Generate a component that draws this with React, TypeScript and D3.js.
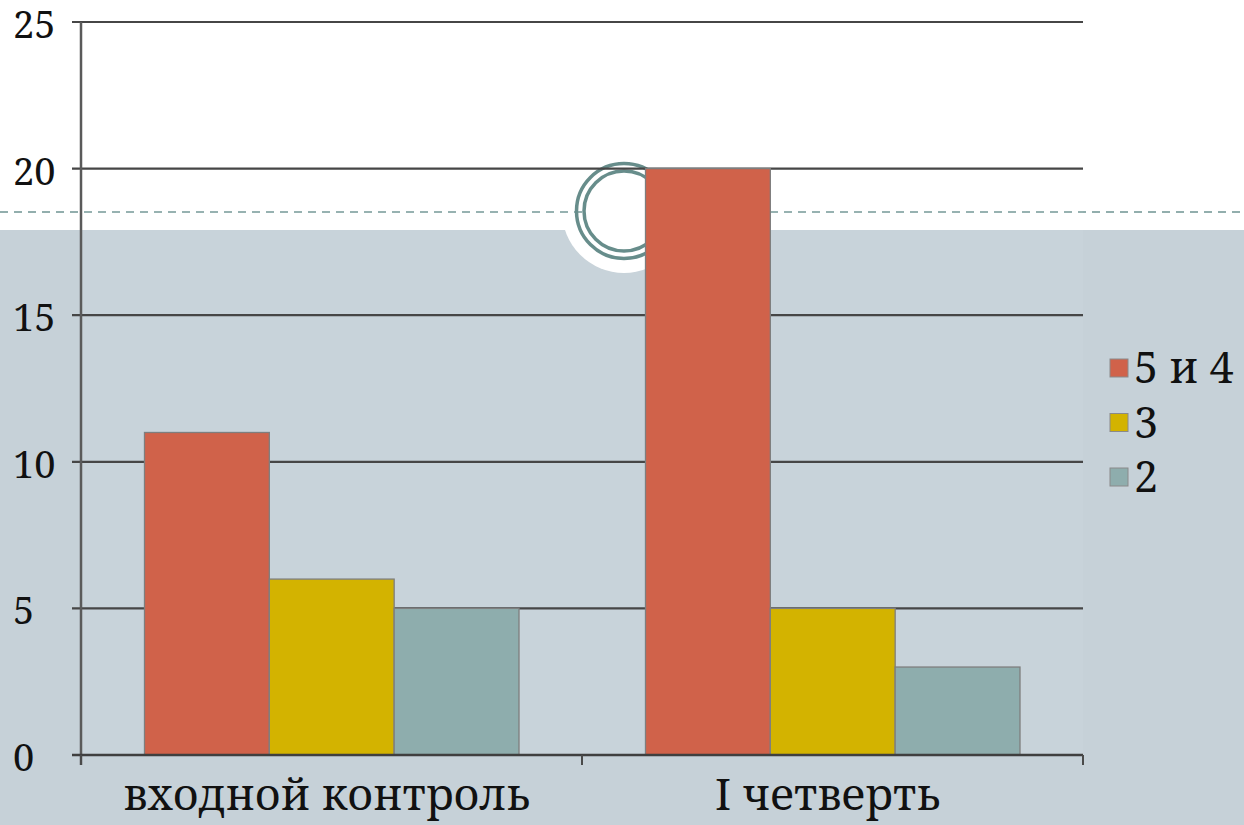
import React from "react";
import * as d3 from "d3";

const categories = ["входной контроль", "I четверть"];
const seriesNames = ["5 и 4", "3", "2"];
const values54 = [11, 20];
const values3 = [6, 5];
const values2 = [5, 3];
const yTicks = [0, 5, 10, 15, 20, 25];
const seriesColors = ["#d0624a", "#d3b300", "#8eadad"];

const W = 1244;
const H = 825;
const FONT = '"Noto Serif", "DejaVu Serif", serif';

export default function App() {
  const seriesValues = [values54, values3, values2];
  const x0 = d3.scaleBand<string>().domain(categories).range([81, 1083]).padding(0);
  const x1 = d3.scaleBand<string>().domain(seriesNames).range([63.5, 438]).padding(0);
  const y = d3.scaleLinear().domain([0, 25]).range([755, 22]);
  const bw = x1.bandwidth();
  const txt = { fontFamily: FONT };

  return (
    <svg
      width={W}
      height={H}
      style={{ position: "absolute", left: 0, top: 0, display: "block" }}
    >
      {/* slide background */}
      <rect x={0} y={0} width={W} height={H} fill="#ffffff" />
      <rect x={0} y={230} width={W} height={H - 230} fill="#c6d1d8" />
      <circle cx={624} cy={211} r={62} fill="#ffffff" />
      <line x1={0} x2={W} y1={212} y2={212} stroke="#6f9493" strokeWidth={1.5} strokeDasharray="8 6" />
      <circle cx={624} cy={211} r={40} fill="#ffffff" stroke="#5f8785" strokeWidth={3.5} />
      <circle cx={624} cy={211} r={47.5} fill="none" stroke="#5f8785" strokeWidth={3.5} />

      {/* plot area tint */}
      <rect x={81} y={y(25)} width={1083 - 81} height={y(0) - y(25)} fill="#ffffff" fillOpacity={0.05} />

      {/* gridlines */}
      {yTicks.map((t) => (
        <line key={"g" + t} x1={72} x2={1083} y1={y(t)} y2={y(t)} stroke="#464646" strokeWidth={2.2} />
      ))}

      {/* bars */}
      {categories.map((c, ci) =>
        seriesNames.map((s, si) => {
          const v = seriesValues[si][ci];
          const bx = (x0(c) as number) + (x1(s) as number);
          return (
            <rect
              key={c + s}
              x={bx}
              y={y(v)}
              width={bw}
              height={y(0) - y(v)}
              fill={seriesColors[si]}
              stroke="#7e7e7e"
              strokeWidth={1.3}
            />
          );
        })
      )}

      {/* axes */}
      <line x1={81} x2={81} y1={y(25)} y2={765} stroke="#5a5a5a" strokeWidth={2.5} />
      <line x1={72} x2={1083} y1={y(0)} y2={y(0)} stroke="#3f3f3f" strokeWidth={2.5} />
      {[...categories.map((c) => x0(c) as number), 1083].map((xv, i) => (
        <line key={"xt" + i} x1={xv} x2={xv} y1={y(0)} y2={765} stroke="#4a4a4a" strokeWidth={2} />
      ))}

      {/* y tick labels */}
      {yTicks.map((t) => (
        <text key={"yl" + t} x={13} y={y(t) + 16} fontSize={38} fill="#111" style={txt}>
          {t}
        </text>
      ))}

      {/* category labels */}
      {categories.map((c) => (
        <text
          key={"cl" + c}
          x={(x0(c) as number) + x0.bandwidth() / 2 - 5}
          y={810}
          fontSize={44}
          textAnchor="middle"
          fill="#111"
          style={txt}
        >
          {c}
        </text>
      ))}

      {/* legend */}
      {seriesNames.map((s, i) => {
        const cy = 368 + i * 54.5;
        return (
          <g key={"lg" + s}>
            <rect x={1110} y={cy - 9} width={18} height={18} fill={seriesColors[i]} stroke="#8a8a8a" strokeWidth={1} />
            <text x={1134} y={cy + 15} fontSize={43} fill="#111" style={txt}>
              {s}
            </text>
          </g>
        );
      })}
    </svg>
  );
}
